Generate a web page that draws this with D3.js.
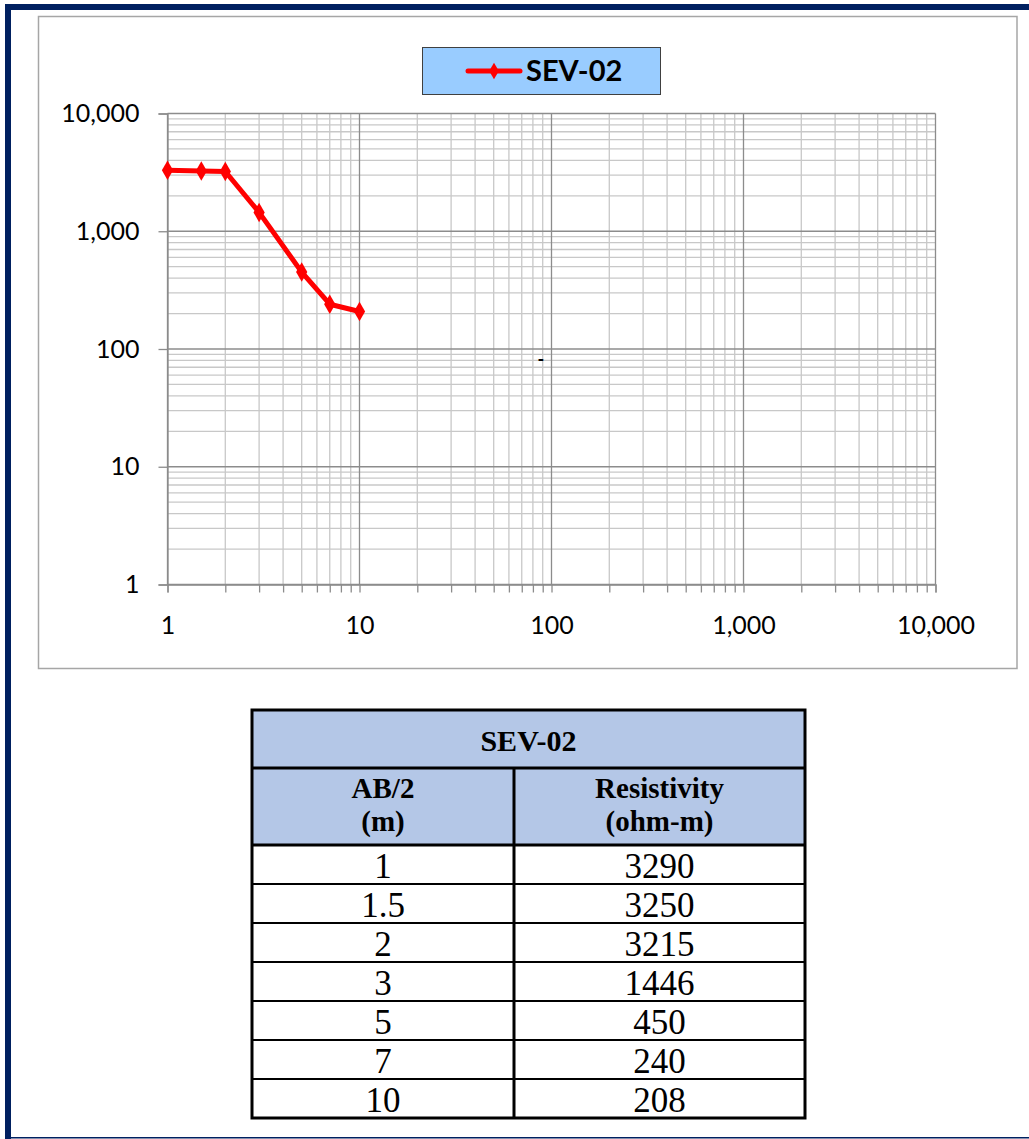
<!DOCTYPE html>
<html>
<head>
<meta charset="utf-8">
<script src="https://cdn.jsdelivr.net/npm/d3@7"></script>
<style>
  html, body { margin: 0; padding: 0; background: #fff; }
  svg { display: block; }
</style>
</head>
<body>
<svg id="sheet" width="1029" height="1139"></svg>
<script>
// Sounding SEV-02: half electrode spacing vs apparent resistivity
const seriesName = "SEV-02";
const spacing = [1, 1.5, 2, 3, 5, 7, 10];              // AB/2 (m)
const resistivity = [3290, 3250, 3215, 1446, 450, 240, 208]; // ohm-m
const majorTicks = [1, 10, 100, 1000, 10000];
const tableHeaders = [["AB/2", "(m)"], ["Resistivity", "(ohm-m)"]];
const strayMark = { x: 88, y: 83, text: "-" };

const svg = d3.select("#sheet");
const navy = "#002060";

// page frame
svg.append("rect").attr("x", 5).attr("y", 4).attr("width", 1024).attr("height", 6).attr("fill", navy);
svg.append("rect").attr("x", 5).attr("y", 4).attr("width", 6).attr("height", 1135).attr("fill", navy);
svg.append("rect").attr("x", 5).attr("y", 1137).attr("width", 1024).attr("height", 1.5).attr("fill", navy);

// chart area border
svg.append("rect").attr("x", 38.5).attr("y", 16.5).attr("width", 978.5).attr("height", 652)
  .attr("fill", "#fff").attr("stroke", "#a6a6a6").attr("stroke-width", 1.5);

const x = d3.scaleLog().domain([1, 10000]).range([167.5, 935.5]);
const y = d3.scaleLog().domain([1, 10000]).range([584.5, 113.5]);

// every 1..9 step in each decade
const allTicks = [];
for (let e = 0; e < 4; e++) for (let k = 1; k < 10; k++) allTicks.push(k * Math.pow(10, e));
allTicks.push(10000);
const minorTicks = allTicks.filter(v => !majorTicks.includes(v));

const plot = svg.append("g");
// minor gridlines
plot.selectAll("line.vmin").data(minorTicks).join("line")
  .attr("x1", d => x(d)).attr("x2", d => x(d)).attr("y1", y(10000)).attr("y2", y(1))
  .attr("stroke", "#c8c8c8").attr("stroke-width", 1.3);
plot.selectAll("line.hmin").data(minorTicks).join("line")
  .attr("y1", d => y(d)).attr("y2", d => y(d)).attr("x1", x(1)).attr("x2", x(10000))
  .attr("stroke", "#c8c8c8").attr("stroke-width", 1.3);
// major gridlines
plot.selectAll("line.vmaj").data(majorTicks).join("line")
  .attr("x1", d => x(d)).attr("x2", d => x(d)).attr("y1", y(10000)).attr("y2", y(1))
  .attr("stroke", "#8c8c8c").attr("stroke-width", 1.3);
plot.selectAll("line.hmaj").data(majorTicks).join("line")
  .attr("y1", d => y(d)).attr("y2", d => y(d)).attr("x1", x(1)).attr("x2", x(10000))
  .attr("stroke", "#8c8c8c").attr("stroke-width", 1.3);

const fmt = d3.format(",");
const axisFont = "Lato, 'Open Sans', sans-serif";

// y axis
const yAxis = svg.append("g").attr("transform", `translate(${x(1)},0)`)
  .call(d3.axisLeft(y).tickValues(majorTicks).tickFormat(fmt).tickSize(9).tickPadding(19));
// x axis
const xAxis = svg.append("g").attr("transform", `translate(0,${y(1)})`)
  .call(d3.axisBottom(x).tickValues(allTicks)
    .tickFormat(d => majorTicks.includes(d) ? fmt(d) : "").tickSize(8).tickPadding(24));
[yAxis, xAxis].forEach(a => {
  a.select(".domain").attr("stroke", "#8c8c8c").attr("stroke-width", 1.3);
  a.selectAll(".tick line").attr("stroke", "#8c8c8c").attr("stroke-width", 1.3);
  a.selectAll(".tick text").attr("fill", "#000").style("font-family", axisFont).style("font-size", "25px");
});

// stray dash mark in the plot
svg.append("text").attr("x", x(strayMark.x)).attr("y", y(strayMark.y))
  .attr("text-anchor", "middle").attr("dominant-baseline", "central")
  .style("font-family", axisFont).style("font-size", "18px").style("font-weight", "bold")
  .text(strayMark.text);

// data series
const pts = spacing.map((s, i) => [s, resistivity[i]]);
const red = "#ff0000";
svg.append("path").datum(pts)
  .attr("d", d3.line().x(d => x(d[0])).y(d => y(d[1])))
  .attr("fill", "none").attr("stroke", red).attr("stroke-width", 5).attr("stroke-linejoin", "round");
const diamond = d3.symbol().type(d3.symbolDiamond).size(110);
svg.selectAll("path.pt").data(pts).join("path")
  .attr("transform", d => `translate(${x(d[0])},${y(d[1])})`)
  .attr("d", diamond).attr("fill", red);

// legend
const lg = svg.append("g");
lg.append("rect").attr("x", 422.5).attr("y", 47.5).attr("width", 238).attr("height", 47)
  .attr("fill", "#99ccff").attr("stroke", "#404040").attr("stroke-width", 1);
lg.append("line").attr("x1", 468).attr("x2", 520).attr("y1", 71).attr("y2", 71)
  .attr("stroke", red).attr("stroke-width", 5).attr("stroke-linecap", "round");
lg.append("path").attr("transform", "translate(494,71)").attr("d", d3.symbol().type(d3.symbolDiamond).size(80)).attr("fill", red);
lg.append("text").attr("x", 526).attr("y", 81).text(seriesName)
  .style("font-family", axisFont).style("font-size", "29px").style("font-weight", "bold").attr("fill", "#000");

// data table
const serif = "'Liberation Serif', 'Times New Roman', serif";
const tX0 = 252, tX1 = 514, tX2 = 805;
const tTop = 710, titleH = 58, headH = 77, rowH = 39;
const headTop = tTop + titleH, bodyTop = headTop + headH;
const tBottom = bodyTop + rowH * spacing.length;
const tbl = svg.append("g");
tbl.append("rect").attr("x", tX0).attr("y", tTop).attr("width", tX2 - tX0).attr("height", titleH + headH)
  .attr("fill", "#b4c7e7");
tbl.append("text").attr("x", (tX0 + tX2) / 2).attr("y", tTop + 41).attr("text-anchor", "middle")
  .style("font-family", serif).style("font-size", "30px").style("font-weight", "bold").text(seriesName);
tableHeaders.forEach((lines, c) => {
  const cx = c === 0 ? (tX0 + tX1) / 2 : (tX1 + tX2) / 2;
  lines.forEach((t, j) => {
    tbl.append("text").attr("x", cx).attr("y", headTop + 30 + j * 33).attr("text-anchor", "middle")
      .style("font-family", serif).style("font-size", "29px").style("font-weight", "bold").text(t);
  });
});
spacing.forEach((s, i) => {
  const yy = bodyTop + rowH * i + 33;
  tbl.append("text").attr("x", (tX0 + tX1) / 2).attr("y", yy).attr("text-anchor", "middle")
    .style("font-family", serif).style("font-size", "35px").text(s);
  tbl.append("text").attr("x", (tX1 + tX2) / 2).attr("y", yy).attr("text-anchor", "middle")
    .style("font-family", serif).style("font-size", "35px").text(resistivity[i]);
});
// grid lines of the table
const hLines = [tTop + titleH, headTop + headH].concat(spacing.slice(1).map((_, i) => bodyTop + rowH * (i + 1)));
tbl.selectAll("line.h").data(hLines).join("line")
  .attr("x1", tX0).attr("x2", tX2).attr("y1", d => d).attr("y2", d => d)
  .attr("stroke", "#000").attr("stroke-width", (d, i) => i < 2 ? 3 : 2);
tbl.append("line").attr("x1", tX1).attr("x2", tX1).attr("y1", headTop).attr("y2", tBottom)
  .attr("stroke", "#000").attr("stroke-width", 3);
tbl.append("rect").attr("x", tX0).attr("y", tTop).attr("width", tX2 - tX0).attr("height", tBottom - tTop)
  .attr("fill", "none").attr("stroke", "#000").attr("stroke-width", 3);
</script>
</body>
</html>
